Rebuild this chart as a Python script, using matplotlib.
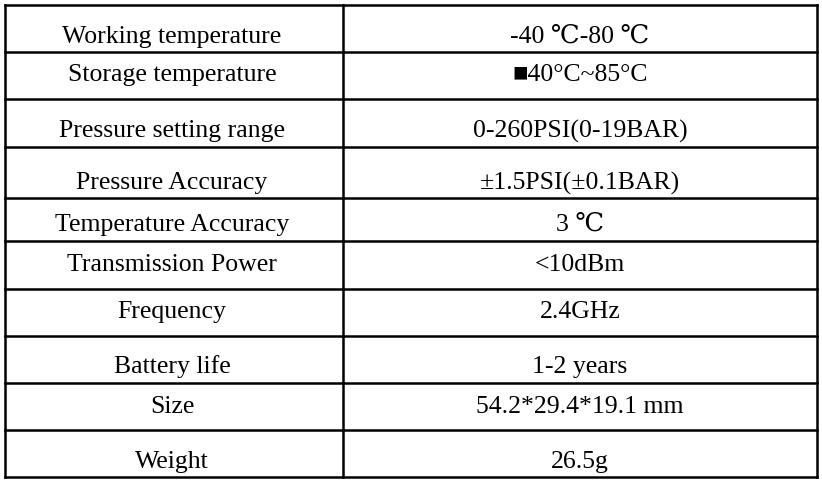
import matplotlib
matplotlib.use("Agg")
import matplotlib.pyplot as plt

params = ["Working temperature", "Storage temperature", "Pressure setting range",
          "Pressure Accuracy", "Temperature Accuracy", "Transmission Power",
          "Frequency", "Battery life", "Size", "Weight"]
values = ["-40 \u2103-80 \u2103", "\u25a040°C~85°C", "0-260PSI(0-19BAR)",
          "±1.5PSI(±0.1BAR)", "3 \u2103", "<10dBm", "2.4GHz", "1-2 years",
          "54.2*29.4*19.1 mm", "26.5g"]
row_lines = [5, 52, 99, 147, 198, 241, 289, 336, 383, 430, 477]
text_y = [37, 75, 131, 183, 225, 265, 312, 367, 407, 462]

W, H = 822, 482
fig = plt.figure(figsize=(W/100, H/100), dpi=100)
ax = fig.add_axes([0, 0, 1, 1])
ax.set_xlim(0, W); ax.set_ylim(H, 0); ax.axis("off")
x0, xm, x1 = 5, 343, 817
for y in row_lines:
    ax.plot([x0, x1], [y, y], color="black", lw=1.8, solid_capstyle="projecting")
for x in (x0, xm, x1):
    ax.plot([x, x], [row_lines[0], row_lines[-1]], color="black", lw=1.8)
fam = ["Liberation Serif", "DejaVu Serif", "DejaVu Sans"]
for p, v, y in zip(params, values, text_y):
    ax.text(172, y, p, ha="center", va="center", fontsize=18.5, family=fam)
    ax.text(580, y, v, ha="center", va="center", fontsize=18.5, family=fam)
fig.savefig("out.png", dpi=100)
